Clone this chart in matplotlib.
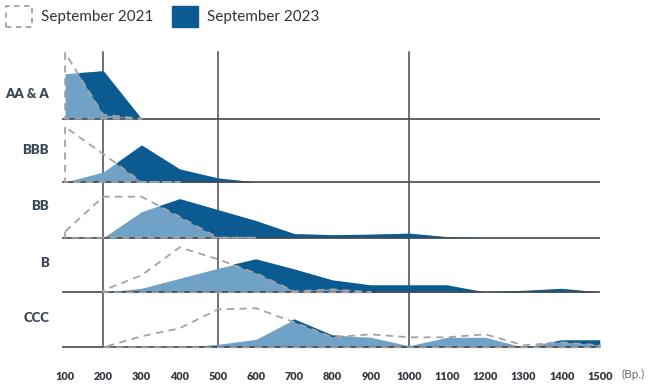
import numpy as np
import matplotlib
matplotlib.use("Agg")
import matplotlib.pyplot as plt
import matplotlib.transforms as mtransforms
from matplotlib.patches import Patch

# spread buckets in basis points
x_bp = [100, 200, 300, 400, 500, 600, 700, 800, 900, 1000, 1100, 1200, 1300, 1400, 1500]
ratings = ["AA & A", "BBB", "BB", "B", "CCC"]
nan = np.nan

# September 2021 (dashed outline), relative height
sep2021 = {
    "AA & A": [66, 4, 0, nan, nan, nan, nan, nan, nan, nan, nan, nan, nan, nan, nan],
    "BBB": [55, 28, 0, 0, nan, nan, nan, nan, nan, nan, nan, nan, nan, nan, nan],
    "BB": [6, 41, 41, 21, 0, 0, nan, nan, nan, nan, nan, nan, nan, nan, nan],
    "B": [nan, 2, 17, 45, 33, 19, 1, 3, 0, nan, nan, nan, nan, nan, nan],
    "CCC": [nan, 0, 11, 19, 38, 39, 25, 10, 13, 10, 10, 13, 2, 5, 2],
}
# September 2023 (filled)
sep2023 = {
    "AA & A": [45, 48, 0, 0, 0, 0, 0, 0, 0, 0, 0, 0, 0, 0, 0],
    "BBB": [0, 10, 37, 13, 4, 0, 0, 0, 0, 0, 0, 0, 0, 0, 0],
    "BB": [0, 0, 26, 39, 28, 17, 4, 3, 3.5, 4.5, 1, 0, 0, 0, 0],
    "B": [0, 0, 4, 14, 24, 33, 23, 12, 7, 7, 7, 0, 1.5, 3.5, 0],
    "CCC": [0, 0, 0, 0, 3, 8, 28, 12, 10, 1.5, 10, 10, 0, 7, 7],
}

dark = "#0b5b92"
light = "#6fa2c6"
grid_col = "#454a50"
dash_col = "#a3a3a3"
text_col = "#333a44"

fig = plt.figure(figsize=(6.53, 3.88), dpi=100)
ax = fig.add_axes([62 / 653, 28 / 388, 538 / 653, 320 / 388])
ax.set_xlim(92, 1500)
ax.set_ylim(0, 320)

# row baselines (in axis units, one unit ~ one pixel) and label offsets
bases = [241.3, 178, 122.3, 67.7, 12.7]
label_off = [25, 32, 31.5, 29.5, 29.5]

x = np.array(x_bp, dtype=float)
label_tf = mtransforms.blended_transform_factory(fig.transFigure, ax.transData)

for name, base, off in zip(ratings, bases, label_off):
    y21 = np.array(sep2021[name], dtype=float)
    y23 = np.array(sep2023[name], dtype=float)
    y21z = np.nan_to_num(y21)
    # overlap in light blue, extra 2023 area in dark blue
    ax.fill_between(x, base, base + y23, color=light, lw=0, zorder=2)
    ax.fill_between(x, base + y21z, base + y23, where=y23 > y21z, interpolate=True,
                    color=dark, lw=0, zorder=2)
    # 2021 outline
    ok = ~np.isnan(y21)
    ax.fill_between(x[ok], base, base + y21[ok], facecolor="none", edgecolor=dash_col,
                    linestyle=(0, (4, 3)), lw=1.3, zorder=4, clip_on=False)
    ax.plot([92, 1500], [base, base], color=grid_col, lw=1.2, zorder=3,
            solid_capstyle="butt", clip_on=False)
    ax.text(49 / 653, base + off, name, transform=label_tf, ha="right", va="center",
            fontsize=9.5, fontweight="heavy", color="#3c4756", family="Lato")

for v in [200, 500, 1000]:
    ax.plot([v, v], [bases[-1], 308], color=grid_col, lw=1.1, zorder=1)

for s in ax.spines.values():
    s.set_visible(False)
ax.set_yticks([])
ax.set_xticks(x_bp)
ax.set_xticklabels([str(v) for v in x_bp], fontsize=7.8, fontweight="heavy",
                   color=text_col, family="Lato")
ax.tick_params(axis="x", length=0, pad=8)
fig.text(621 / 653, (388 - 374.5) / 388, "(Bp.)", fontsize=8.5, color="#6a6a6a",
         ha="left", va="center", family="Lato")

handles = [
    Patch(facecolor="none", edgecolor=dash_col, linestyle=(0, (3, 2.5)), lw=1.3),
    Patch(facecolor=dark, edgecolor=dark),
]
fig.legend(handles, ["September 2021", "September 2023"], loc="upper left",
           bbox_to_anchor=(6 / 653, 1 - 6 / 388), ncol=2, frameon=False,
           prop={"family": "Lato", "size": 11}, labelcolor="#333333",
           handlelength=1.7, handleheight=1.7, handletextpad=0.57,
           columnspacing=1.27, borderpad=0, borderaxespad=0)

fig.savefig("out.png", dpi=100)
